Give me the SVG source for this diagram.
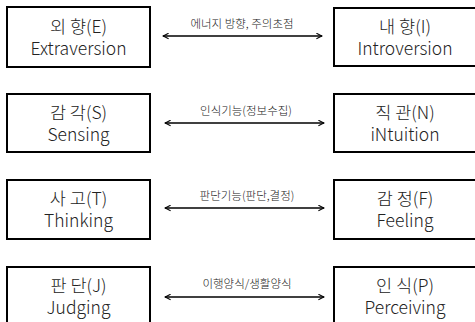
<svg xmlns="http://www.w3.org/2000/svg" width="475" height="322" viewBox="0 0 475 322">
<defs>
<marker id="ah" viewBox="0 0 10 10" refX="9" refY="5" markerWidth="7" markerHeight="7" orient="auto-start-reverse" markerUnits="userSpaceOnUse">
<path d="M1,1 L9,5 L1,9" fill="none" stroke="#000" stroke-width="1.5"/>
</marker>
</defs>
<style>
.box{fill:#fff;stroke:#000;stroke-width:2}
.t{font-family:"Noto Sans CJK KR","Noto Sans",sans-serif;font-size:17.5px;font-weight:300;fill:#222;text-anchor:middle}
.l{font-family:"Noto Sans CJK KR","Noto Sans",sans-serif;font-size:11.5px;font-weight:300;fill:#222;text-anchor:middle}
.c{stroke:#000;stroke-width:1.3;fill:none;marker-start:url(#ah);marker-end:url(#ah)}
</style>
<rect width="475" height="322" fill="#fff"/>
<g id="connectors">
<line class="c" x1="163" y1="36" x2="322" y2="36"/>
<text class="l" x="242" y="28">에너지 방향, 주의초점</text>
<line class="c" x1="165" y1="123" x2="324" y2="123"/>
<text class="l" x="246" y="115">인식기능(정보수집)</text>
<line class="c" x1="165" y1="208" x2="324" y2="208"/>
<text class="l" x="247" y="200">판단기능(판단,결정)</text>
<line class="c" x1="165" y1="297" x2="324" y2="297"/>
<text class="l" x="247" y="288">이행양식/생활양식</text>
</g>
<g id="E"><rect class="box" x="7" y="7" width="143" height="60"/><text class="t" x="78.5" y="32.5">외 향(E)</text><text class="t" x="78.5" y="54.5">Extraversion</text></g>
<g id="I"><rect class="box" x="334" y="8" width="143" height="58"/><text class="t" x="405" y="32.5">내 향(I)</text><text class="t" x="405" y="54.5">Introversion</text></g>
<g id="S"><rect class="box" x="7" y="94" width="143" height="58"/><text class="t" x="78.5" y="118.5">감 각(S)</text><text class="t" x="78.5" y="140.5">Sensing</text></g>
<g id="N"><rect class="box" x="334" y="94" width="143" height="58"/><text class="t" x="405" y="118.5">직 관(N)</text><text class="t" x="405" y="140.5">iNtuition</text></g>
<g id="T"><rect class="box" x="7" y="180" width="143" height="59"/><text class="t" x="78.5" y="204.5">사 고(T)</text><text class="t" x="78.5" y="226.5">Thinking</text></g>
<g id="F"><rect class="box" x="334" y="180" width="143" height="59"/><text class="t" x="405" y="204.5">감 정(F)</text><text class="t" x="405" y="226.5">Feeling</text></g>
<g id="J"><rect class="box" x="7" y="267" width="143" height="60"/><text class="t" x="78.5" y="291.5">판 단(J)</text><text class="t" x="78.5" y="313.5">Judging</text></g>
<g id="P"><rect class="box" x="334" y="267" width="143" height="60"/><text class="t" x="405" y="291.5">인 식(P)</text><text class="t" x="405" y="313.5">Perceiving</text></g>
</svg>
